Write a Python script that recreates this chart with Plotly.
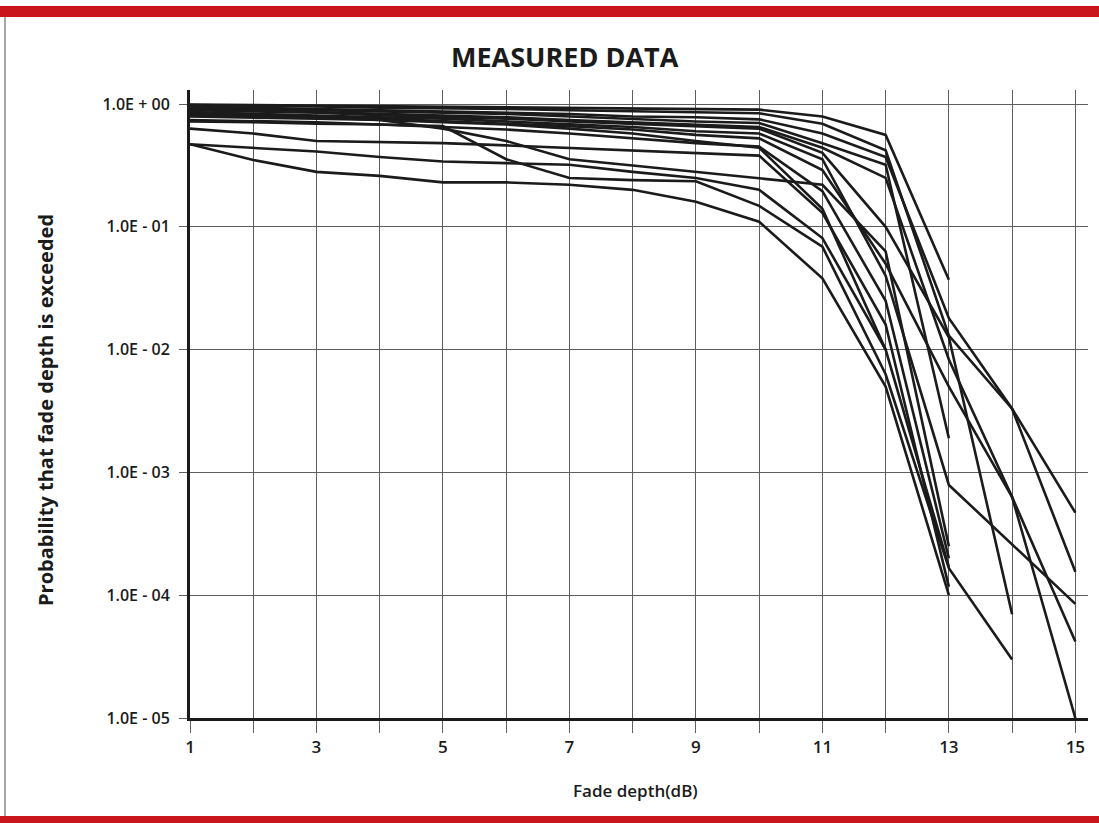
import plotly.graph_objects as go

# Fade depth (dB)
fade_db = [1, 2, 3, 4, 5, 6, 7, 8, 9, 10, 11, 12, 13, 14, 15]

# Probability that fade depth is exceeded, one list per measured record
rec01 = [0.99, 0.98, 0.97, 0.955, 0.945, 0.935, 0.925, 0.91, 0.91, 0.90, 0.79, 0.56, 0.037]
rec02 = [0.98, 0.97, 0.955, 0.935, 0.925, 0.91, 0.89, 0.87, 0.85, 0.84, 0.69, 0.42, 0.013, 0.0033, 0.00047]
rec03 = [0.955, 0.935, 0.91, 0.89, 0.87, 0.85, 0.83, 0.79, 0.78, 0.75, 0.575, 0.37, 0.018, 0.0033, 0.000155]
rec04 = [0.935, 0.91, 0.89, 0.87, 0.85, 0.83, 0.79, 0.76, 0.72, 0.70, 0.48, 0.32, 0.0019]
rec05 = [0.92, 0.89, 0.87, 0.83, 0.81, 0.78, 0.74, 0.71, 0.68, 0.65, 0.44, 0.25, 0.0083, 0.00063, 0.00001]
rec06 = [0.89, 0.87, 0.85, 0.81, 0.79, 0.76, 0.72, 0.69, 0.66, 0.63, 0.40, 0.10, 0.0126, 0.00007]
rec07 = [0.86, 0.83, 0.81, 0.78, 0.76, 0.72, 0.69, 0.65, 0.60, 0.575, 0.355, 0.04, 0.00079, 0.00026, 0.000085]
rec08 = [0.83, 0.81, 0.79, 0.76, 0.72, 0.69, 0.66, 0.62, 0.56, 0.525, 0.29, 0.05, 0.005, 0.00063, 0.000042]
rec09 = [0.74, 0.72, 0.71, 0.68, 0.65, 0.62, 0.575, 0.525, 0.48, 0.45, 0.195, 0.025, 0.0002]
rec10 = [0.72, 0.71, 0.69, 0.68, 0.66, 0.355, 0.25, 0.24, 0.235, 0.148, 0.069, 0.0063, 0.000166, 0.00003]
rec11 = [0.63, 0.575, 0.50, 0.49, 0.48, 0.46, 0.44, 0.42, 0.40, 0.38, 0.13, 0.016, 0.000117]
rec12 = [0.47, 0.44, 0.41, 0.37, 0.34, 0.33, 0.32, 0.28, 0.25, 0.20, 0.081, 0.01, 0.00017]
rec13 = [0.47, 0.35, 0.28, 0.26, 0.23, 0.23, 0.22, 0.20, 0.16, 0.11, 0.038, 0.005, 0.0001]
rec14 = [0.81, 0.79, 0.78, 0.74, 0.71, 0.68, 0.63, 0.575, 0.50, 0.44, 0.14, 0.01]
rec15 = [0.79, 0.78, 0.76, 0.74, 0.63, 0.50, 0.355, 0.316, 0.28, 0.25, 0.22, 0.063, 0.00025]

records = [rec01, rec02, rec03, rec04, rec05, rec06, rec07, rec08,
           rec09, rec10, rec11, rec12, rec13, rec14, rec15]

y_tick_vals = [1, 0.1, 0.01, 0.001, 0.0001, 0.00001]
y_tick_text = ["1.0E + 00", "1.0E - 01", "1.0E - 02", "1.0E - 03", "1.0E - 04", "1.0E - 05"]
x_tick_text = ["1", "", "3", "", "5", "", "7", "", "9", "", "11", "", "13", "", "15"]

W, H = 1099, 823
L, R, T, B = 190, 11, 90, 105
pw, ph = W - L - R, H - T - B


def px_x(p):
    return (p - L) / pw


def px_y(p):
    return (H - B - p) / ph


FONT = "Open Sans"
INK = "#1b1b1b"
GRID = "#5e5e5e"
RED = "#c9161c"

fig = go.Figure()
for rec in records:
    fig.add_trace(go.Scatter(
        x=fade_db[:len(rec)], y=rec, mode="lines",
        line=dict(color=INK, width=2.6), showlegend=False, hoverinfo="skip",
    ))

fig.update_layout(
    width=W, height=H,
    margin=dict(l=L, r=R, t=T, b=B, autoexpand=False),
    paper_bgcolor="white", plot_bgcolor="white",
    font=dict(family=FONT, color=INK, size=16),
    hovermode=False,
)

fig.update_xaxes(
    range=[1, 15.2], tickmode="array", tickvals=fade_db, ticktext=x_tick_text,
    showgrid=True, gridcolor=GRID, gridwidth=1.2,
    ticks="outside", ticklen=12, tickcolor=GRID, tickwidth=1.2,
    showline=True, linecolor=INK, linewidth=3, zeroline=False,
    tickfont=dict(family=FONT, size=17, weight=600, color=INK),
)
fig.update_yaxes(
    type="log", range=[-5, 0.114], tickmode="array",
    tickvals=y_tick_vals, ticktext=y_tick_text,
    showgrid=True, gridcolor=GRID, gridwidth=1.2,
    ticks="outside", ticklen=8, tickcolor=GRID, tickwidth=1.2,
    ticklabelstandoff=6,
    showline=True, linecolor=INK, linewidth=3, zeroline=False,
    tickfont=dict(family=FONT, size=16, weight=600, color=INK),
)

# decorative page frame: red bars and left rule
fig.add_shape(type="rect", xref="paper", yref="paper",
              x0=px_x(0), x1=px_x(W), y0=px_y(17), y1=px_y(6),
              fillcolor=RED, line=dict(width=0), layer="above")
fig.add_shape(type="rect", xref="paper", yref="paper",
              x0=px_x(0), x1=px_x(W), y0=px_y(823), y1=px_y(816),
              fillcolor=RED, line=dict(width=0), layer="above")
fig.add_shape(type="line", xref="paper", yref="paper",
              x0=px_x(5), x1=px_x(5), y0=px_y(816), y1=px_y(17),
              line=dict(color="#8a8a8a", width=1.5))

fig.add_annotation(text="MEASURED DATA", xref="paper", yref="paper",
                   x=px_x(565), y=px_y(57), showarrow=False,
                   xanchor="center", yanchor="middle",
                   font=dict(family=FONT, size=27, weight=700, color=INK))
fig.add_annotation(text="Probability that fade depth is exceeded", xref="paper", yref="paper",
                   x=px_x(45), y=px_y(410), showarrow=False, textangle=-90,
                   xanchor="center", yanchor="middle",
                   font=dict(family=FONT, size=20, weight=700, color=INK))
fig.add_annotation(text="Fade depth(dB)", xref="paper", yref="paper",
                   x=px_x(635), y=px_y(790), showarrow=False,
                   xanchor="center", yanchor="middle",
                   font=dict(family=FONT, size=17, weight=600, color=INK))

fig.write_html("out.html")
